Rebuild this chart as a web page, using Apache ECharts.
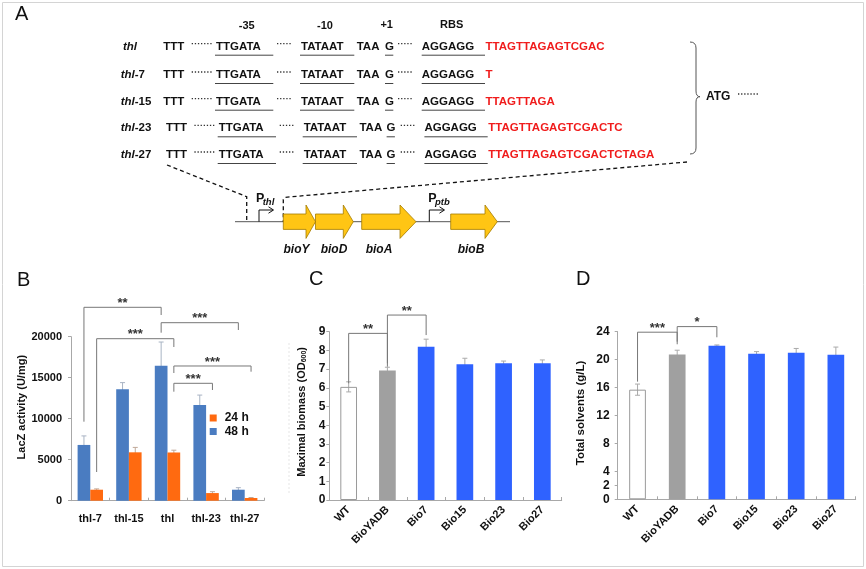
<!DOCTYPE html>
<html><head><meta charset="utf-8">
<script src="https://cdn.jsdelivr.net/npm/echarts@6/dist/echarts.min.js"></script>
<style>html,body{margin:0;padding:0;background:#fff}#c{width:866px;height:569px}</style>
</head><body><div id="c"></div>
<script>
// ---------- data ----------
const bCategories = ['thl-7', 'thl-15', 'thl', 'thl-23', 'thl-27'];
const b48h = [6800, 13600, 16450, 11680, 1340];
const b48hErr = [1100, 800, 2900, 1200, 250];
const b24h = [1340, 5900, 5880, 930, 330];
const b24hErr = [100, 600, 280, 170, 60];
const bTicks = [0, 5000, 10000, 15000, 20000];

const strainCategories = ['WT', 'BioYADB', 'Bio7', 'Bio15', 'Bio23', 'Bio27'];
const biomass = [6.05, 6.92, 8.2, 7.26, 7.31, 7.31];
const biomassErr = [0.27, 0.18, 0.4, 0.32, 0.12, 0.18];
const biomassTicks = [0, 1, 2, 3, 4, 5, 6, 7, 8, 9];
const solvents = [15.7, 20.75, 22.0, 20.85, 21.0, 20.7];
const solventsErr = [0.8, 0.6, 0.1, 0.3, 0.6, 1.1];
const solventTicks = [0, 2, 4, 8, 12, 16, 20, 24];

// significance brackets: [fromCat, fromBar, fromLegEnd, toCat, toBar, toLegEnd, top, label]
const bBrackets = [
  [0, 0, 9634, 2, 0, 22646, 23585, '**'],
  [0, 1, 3500, 2, 1, 18744, 19756, '***'],
  [2, 0, 20488, 4, 0, 20817, 21707, '***'],
  [2, 1, 15573, 4, 1, 15732, 16427, '***'],
  [2, 1, 13293, 3, 1, 13500, 14317, '***']
];
const cBrackets = [
  [0, 6.24, 1, 7.13, 8.91, '**'],
  [1, 7.31, 2, 8.82, 9.89, '**']
];
const dBrackets = [
  [0, 16.85, 1, 22.58, 23.93, '***'],
  [1, 22.2, 2, 23.2, 24.73, '*']
];

// panel A sequences
const promoterRows = [
  { name: 'thl', suffix: '', insert: 'TTAGTTAGAGTCGAC' },
  { name: 'thl', suffix: '-7', insert: 'T' },
  { name: 'thl', suffix: '-15', insert: 'TTAGTTAGA' },
  { name: 'thl', suffix: '-23', insert: 'TTAGTTAGAGTCGACTC' },
  { name: 'thl', suffix: '-27', insert: 'TTAGTTAGAGTCGACTCTAGA' }
];
const genes = ['bioY', 'bioD', 'bioA', 'bioB'];

// ---------- helpers ----------
const FONT = '"Liberation Sans", Arial, Helvetica, sans-serif';
const AX = '#a8a8a8';
const BLUE_B = '#4a7cc1', ORANGE_B = '#ff6a10', BLUE_C = '#2f62ff', GRAY_C = '#a0a0a0';
const BW_B = 12.7;

function xAx(gi, cats, rotate, margin) {
  return {
    type: 'category', gridIndex: gi, data: cats,
    axisLine: { lineStyle: { color: AX } },
    axisTick: { show: true, inside: true, length: 3, lineStyle: { color: AX } },
    axisLabel: { rotate: rotate, margin: margin, interval: 0, color: '#111', fontWeight: 'bold', fontSize: 11, fontFamily: FONT }
  };
}
function yAx(gi, max, interval, ticks, name, nameGap, padUp, margin, labelSize, nameSize, rich) {
  return {
    type: 'value', gridIndex: gi, min: 0, max: max, interval: interval,
    name: name, nameLocation: 'middle', nameRotate: 90, nameGap: nameGap,
    nameTextStyle: { fontWeight: 'bold', fontSize: nameSize, color: '#111', fontFamily: FONT, padding: [0, 0, 0, padUp], rich: rich || {} },
    axisLine: { show: true, lineStyle: { color: AX } },
    axisTick: { show: true, inside: false, length: 3, lineStyle: { color: AX }, customValues: ticks },
    splitLine: { show: false },
    axisLabel: { margin: margin, color: '#111', fontWeight: 'bold', fontSize: labelSize, fontFamily: FONT, customValues: ticks,
      formatter: function (v) { return ticks.indexOf(v) >= 0 ? String(v) : ''; } }
  };
}
function errSeries(gi, vals, errs, offset, color) {
  return {
    type: 'custom', xAxisIndex: gi, yAxisIndex: gi, z: 1, silent: true,
    data: vals.map(function (v, i) { return [i, v, errs[i]]; }),
    renderItem: function (params, api) {
      const i = api.value(0), v = api.value(1), e = api.value(2);
      const top = api.coord([i, v + e]), bot = api.coord([i, v - e]);
      const x = top[0] + offset, cw = 2.5;
      const st = { stroke: color, lineWidth: 1 };
      return { type: 'group', children: [
        { type: 'line', shape: { x1: x, y1: top[1], x2: x, y2: bot[1] }, style: st },
        { type: 'line', shape: { x1: x - cw, y1: top[1], x2: x + cw, y2: top[1] }, style: st },
        { type: 'line', shape: { x1: x - cw, y1: bot[1], x2: x + cw, y2: bot[1] }, style: st }
      ] };
    }
  };
}
function bracketSeries(gi, list, offsetFn) {
  return {
    type: 'custom', xAxisIndex: gi, yAxisIndex: gi, z: 5, silent: true, clip: false,
    data: list.map(function (b) { return b.length === 8 ? [b[0], b[2], b[3], b[5], b[6]] : [b[0], b[1], b[2], b[3], b[4]]; }),
    renderItem: function (params, api) {
      const b = list[params.dataIndex];
      const x1i = api.value(0), y1 = api.value(1), x2i = api.value(2), y2 = api.value(3), t = api.value(4);
      const o1 = b.length === 8 ? offsetFn(b[1]) : 0, o2 = b.length === 8 ? offsetFn(b[4]) : 0;
      const p1 = api.coord([x1i, y1]), p2 = api.coord([x2i, y2]);
      const pt = api.coord([x1i, t]);
      const xa = p1[0] + o1, xb = p2[0] + o2, yt = pt[1];
      const label = b[b.length - 1];
      return { type: 'group', children: [
        { type: 'polyline', shape: { points: [[xa, p1[1]], [xa, yt], [xb, yt], [xb, p2[1]]] }, style: { stroke: '#777', lineWidth: 1, fill: null } },
        { type: 'text', x: (xa + xb) / 2, y: yt - 4, style: { text: label, font: 'bold 13px ' + FONT, fill: '#333', align: 'center', verticalAlign: 'middle' } }
      ] };
    }
  };
}

// ---------- panel A graphics ----------
const G = [];
const SEQ = 'bold 11.5px ' + FONT;
function T(x, y, text, font, fill, align, extra) {
  return Object.assign({ type: 'text', x: x, y: y, silent: true,
    style: { text: text, font: font || SEQ, fill: fill || '#111', align: align || 'left', verticalAlign: 'middle' } }, extra || {});
}
function L(x1, y1, x2, y2, stroke, w, dash) {
  return { type: 'line', silent: true, shape: { x1: x1, y1: y1, x2: x2, y2: y2 },
    style: { stroke: stroke || '#222', lineWidth: w || 1, lineDash: dash || null } };
}
function Q(x1, y1, cx, cy, x2, y2) {
  return { type: 'bezierCurve', silent: true, shape: { x1: x1, y1: y1, cpx1: cx, cpy1: cy, x2: x2, y2: y2 },
    style: { stroke: '#555', lineWidth: 1, fill: null } };
}
function dots(x1, x2, y) { return L(x1, y, x2, y, '#333', 1.3, [1.3, 1.8]); }

G.push({ type: 'rect', silent: true, shape: { x: 2.5, y: 2.5, width: 861, height: 564 }, style: { fill: null, stroke: '#d4d4d4', lineWidth: 1 } });
G.push(L(289, 343, 289, 495, '#e6e6e6', 1, [2, 2]));

['A', 'B', 'C', 'D'].forEach(function (p, i) {
  const pos = [[15, 14], [17, 280.5], [309, 279], [576, 279.5]][i];
  G.push(T(pos[0], pos[1], p, '20px ' + FONT, '#111'));
});

const HDR = 'bold 11px ' + FONT;
G.push(T(246.7, 26, '-35', HDR, '#111', 'center'));
G.push(T(325, 26, '-10', HDR, '#111', 'center'));
G.push(T(386.7, 24.5, '+1', HDR, '#111', 'center'));
G.push(T(451.7, 24.5, 'RBS', HDR, '#111', 'center'));

const rowY = [46.7, 75, 101.7, 128.3, 155];
promoterRows.forEach(function (r, i) {
  const y = rowY[i], s = i >= 3 ? 2.7 : 0;
  G.push({ type: 'text', x: i === 0 ? 123 : 120.7, y: y, silent: true,
    style: { text: '{i|' + r.name + '}' + (r.suffix ? '{b|' + r.suffix + '}' : ''), verticalAlign: 'middle', align: 'left',
      rich: { i: { font: 'italic bold 11.5px ' + FONT, fill: '#111' }, b: { font: SEQ, fill: '#111' } } } });
  G.push(T(163.3 + s, y, 'TTT'));
  G.push(dots(191.7 + s, 213 + s, y - 3));
  G.push(T(216 + s, y, 'TTGATA'));
  G.push(L(215 + s, y + 8.5, 273.3 + s, y + 8.5, '#444', 1));
  G.push(dots(277 + s, 292 + s, y - 3));
  G.push(T(301 + s, y, 'TATAAT'));
  G.push(L(300 + s, y + 8.5, 354.3 + s, y + 8.5, '#444', 1));
  G.push(T(356.7 + s, y, 'TAA'));
  G.push(T(385 + s * 0.6, y, 'G'));
  G.push(L(385 + s * 0.6, y + 8.5, 393.3 + s * 0.6, y + 8.5, '#444', 1));
  G.push(dots(398 + s, 413 + s, y - 3));
  G.push(T(421.7 + s, y, 'AGGAGG'));
  G.push(L(421.7 + s, y + 8.5, 485 + s, y + 8.5, '#444', 1));
  G.push(T(485.5 + s, y, r.insert, SEQ, '#f01c1c'));
});
// brace
G.push(Q(690, 42, 696, 42, 696, 48));
G.push(L(696, 48, 696, 91, '#555', 1));
G.push(Q(696, 91, 696, 96.7, 700, 96.7));
G.push(Q(700, 96.7, 696, 96.7, 696, 102));
G.push(L(696, 102, 696, 148, '#555', 1));
G.push(Q(696, 148, 696, 154, 690, 154));
G.push(T(706, 97, 'ATG', 'bold 12px ' + FONT));
G.push(dots(738, 758, 94));

// gene map
G.push(L(235, 221.7, 510, 221.7, '#555', 1));
G.push({ type: 'polyline', silent: true, shape: { points: [[167, 165], [246.7, 196.7], [246.7, 221.7]] }, style: { stroke: '#111', lineWidth: 1.3, lineDash: [4, 3], fill: null } });
G.push({ type: 'polyline', silent: true, shape: { points: [[687, 162], [285.5, 197.3], [283.3, 199.5], [283.3, 221.7]] }, style: { stroke: '#111', lineWidth: 1.3, lineDash: [4, 3], fill: null } });
function promoter(x, x2, label, sub) {
  G.push({ type: 'polyline', silent: true, shape: { points: [[x, 221.7], [x, 210], [x2, 210]] }, style: { stroke: '#111', lineWidth: 1, fill: null } });
  G.push({ type: 'polyline', silent: true, shape: { points: [[x2 - 4.5, 206.8], [x2 + 0.5, 210], [x2 - 4.5, 213.2]] }, style: { stroke: '#111', lineWidth: 1, fill: null } });
  G.push(T(label, 199, 'P', 'bold 12.5px ' + FONT));
  G.push(T(label + 6.7, 202.5, sub, 'italic bold 9.5px ' + FONT));
}
promoter(259, 273, 256, 'thl');
promoter(429.3, 444, 428.3, 'ptb');
const geneShapes = [[283.3, 315.5, 306, 296.5], [315.5, 353.3, 343.3, 334], [361.7, 416, 400, 379], [450.7, 497.3, 485, 471]];
genes.forEach(function (g, i) {
  const a = geneShapes[i], yc = 221.7, bh = 7.7, hh = 16.7;
  G.push({ type: 'polygon', silent: true, shape: { points: [[a[0], yc - bh], [a[2], yc - bh], [a[2], yc - hh], [a[1], yc], [a[2], yc + hh], [a[2], yc + bh], [a[0], yc + bh]] },
    style: { fill: '#ffc514', stroke: '#a37b00', lineWidth: 0.8 } });
  G.push(T(a[3], 249.5, g, 'italic bold 12px ' + FONT, '#111', 'center'));
});

// ---------- chart ----------
const chart = echarts.init(document.getElementById('c'));
const strainStyles = [
  { color: 'rgba(255,255,255,0)', borderColor: '#9a9a9a', borderWidth: 1 },
  { color: GRAY_C }, { color: BLUE_C }, { color: BLUE_C }, { color: BLUE_C }, { color: BLUE_C }
];
chart.setOption({
  animation: false,
  backgroundColor: '#fff',
  textStyle: { fontFamily: FONT },
  grid: [
    { left: 71, top: 336.7, width: 193, height: 164 },
    { left: 329.3, top: 331.7, width: 232.4, height: 168.3 },
    { left: 617.7, top: 331.7, width: 238, height: 167.6 }
  ],
  legend: {
    data: ['24 h', '48 h'], orient: 'vertical', left: 209.7, top: 411.5, padding: 0,
    itemWidth: 7, itemHeight: 7, itemGap: 0.5, icon: 'rect',
    textStyle: { fontWeight: 'bold', fontSize: 12, color: '#111', fontFamily: FONT, lineHeight: 13, padding: [0, 0, 0, 3] }
  },
  xAxis: [
    xAx(0, bCategories, 0, 13),
    xAx(1, strainCategories, 45, 8),
    xAx(2, strainCategories, 45, 8)
  ],
  yAxis: [
    yAx(0, 20000, 5000, bTicks, 'LacZ activity (U/mg)', 43, 23, 9, 11, 11),
    yAx(1, 9, 1, biomassTicks, 'Maximal biomass (OD{s|600})', 22, 8, 4, 12, 11,
      { s: { fontSize: 7, fontWeight: 'bold', verticalAlign: 'bottom', color: '#111', fontFamily: FONT } }),
    yAx(2, 24, 2, solventTicks, 'Total solvents (g/L)', 31, 5, 8, 12, 11.5)
  ],
  graphic: { elements: G },
  series: [
    { name: '48 h', type: 'bar', xAxisIndex: 0, yAxisIndex: 0, data: b48h, barWidth: BW_B, barGap: '0%', itemStyle: { color: BLUE_B }, z: 2 },
    { name: '24 h', type: 'bar', xAxisIndex: 0, yAxisIndex: 0, data: b24h, barWidth: BW_B, barGap: '0%', itemStyle: { color: ORANGE_B }, z: 2 },
    errSeries(0, b48h, b48hErr, -BW_B / 2, '#a9b4c4'),
    errSeries(0, b24h, b24hErr, BW_B / 2, '#c0a898'),
    bracketSeries(0, bBrackets, function (k) { return k === 0 ? -BW_B / 2 : BW_B / 2; }),
    { name: 'Maximal biomass', type: 'bar', xAxisIndex: 1, yAxisIndex: 1, barWidth: 16.7, z: 2,
      data: biomass.map(function (v, i) { return { value: v, itemStyle: strainStyles[i] }; }) },
    errSeries(1, biomass, biomassErr, 0, '#aaa'),
    bracketSeries(1, cBrackets),
    { name: 'Total solvents', type: 'bar', xAxisIndex: 2, yAxisIndex: 2, barWidth: 16.7, z: 2,
      data: solvents.map(function (v, i) { return { value: v, itemStyle: strainStyles[i] }; }) },
    errSeries(2, solvents, solventsErr, 0, '#aaa'),
    bracketSeries(2, dBrackets)
  ]
});
</script></body></html>
